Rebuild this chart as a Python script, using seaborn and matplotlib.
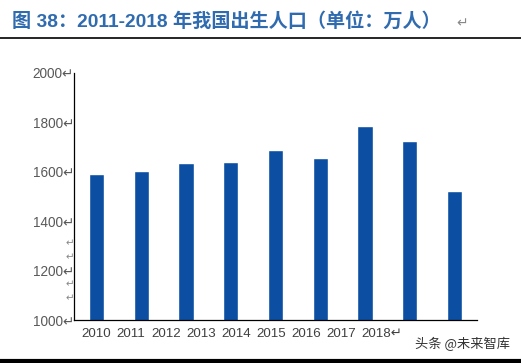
import matplotlib
matplotlib.use("Agg")
import matplotlib.pyplot as plt
import seaborn as sns
import pandas as pd

years = ["2010", "2011", "2012", "2013", "2014", "2015", "2016", "2017", "2018"]
births = [1592, 1604, 1635, 1640, 1687, 1655, 1786, 1723, 1523]
year_labels = ["2010", "2011", "2012", "2013", "2014", "2015", "2016", "2017", "2018↵"]
yticks = [1000, 1200, 1400, 1600, 1800, 2000]
ytick_labels = ["1000↵", "1200↵", "1400↵", "1600↵", "1800↵", "2000↵"]

sns.set_style("white")
plt.rcParams['font.family'] = ['Liberation Sans', 'DejaVu Sans', 'Noto Sans CJK SC']

df = pd.DataFrame({"year": years, "births": births})

fig = plt.figure(figsize=(5.21, 3.63), dpi=100)
ax = fig.add_axes([74/521, 1-320/363, (477-74)/521, (320-73)/363])
sns.barplot(data=df, x="year", y="births", color="#0B4EA2", width=0.34,
            saturation=1, ax=ax)
ax.set_ylim(1000, 2000)
ax.set_xlim(-0.5, len(years)-0.5)
ax.set_yticks(yticks)
ax.set_yticklabels(ytick_labels, color="#595959", fontsize=9.8)
# year labels are one run of text in the source, narrower than the bars
ax.set_xticks([-0.325 + i * 0.78 for i in range(len(years))])
ax.set_xticklabels(year_labels, color="#404040", fontsize=9.6, ha="left")
ax.set_xlabel("")
ax.set_ylabel("")
for s in ["top", "right"]:
    ax.spines[s].set_visible(False)
for s in ["left", "bottom"]:
    ax.spines[s].set_color("black")
    ax.spines[s].set_linewidth(0.9)
ax.tick_params(axis="y", length=0, pad=0)
ax.tick_params(axis="x", length=0, pad=6)
ax.set_xticks([i + 0.5 for i in range(len(years))], minor=True)
ax.tick_params(axis="x", which="minor", direction="in", length=3, color="black", width=0.8)

# stray paragraph marks next to the y axis
for py in [243, 257, 284, 298]:
    fig.text(66/521, 1-py/363, "↵", family=['DejaVu Sans'], fontsize=7.5,
             color="#888888", va="center", ha="left")

fig.text(12/521, 1-22/363, "图 38：2011-2018 年我国出生人口（单位：万人）",
         family=['Liberation Sans', 'Noto Sans CJK SC'], fontweight="bold",
         fontsize=13.8, color="#2F6BAE", va="center", ha="left")
fig.text(456/521, 1-23/363, "↵", family=['DejaVu Sans'], fontsize=10,
         color="#888888", va="center", ha="left")
fig.add_artist(plt.Line2D([0, 1], [1-38/363, 1-38/363], color="black", lw=1.2,
                          transform=fig.transFigure))
fig.add_artist(plt.Line2D([0, 1], [1-361/363, 1-361/363], color="black", lw=3,
                          transform=fig.transFigure))
fig.text(510/521, 1-344/363, "头条 @未来智库", family=['Noto Sans CJK SC'],
         fontsize=9.5, color="#333333", va="center", ha="right")

fig.savefig("out.png", dpi=100)
